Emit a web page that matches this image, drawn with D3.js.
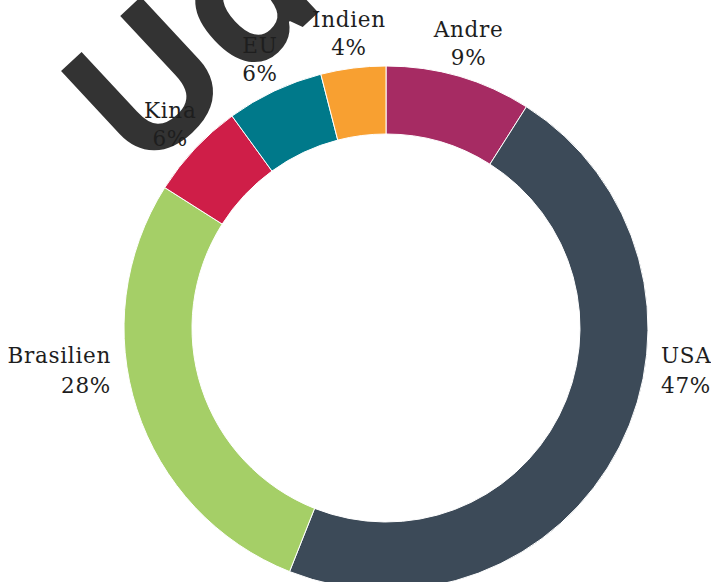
<!DOCTYPE html>
<html>
<head>
<meta charset="utf-8">
<script src="https://cdn.jsdelivr.net/npm/d3@7"></script>
<style>
  html, body { margin: 0; padding: 0; background: #fff; overflow: hidden; }
  svg { display: block; }
</style>
</head>
<body>
<script>
// ---- data ----
const categories = ["Andre", "USA", "Brasilien", "Kina", "EU", "Indien"];
const shares = [9, 47, 28, 6, 6, 4];
const colors = ["#a62b63", "#3c4a58", "#a5cf67", "#cf1e48", "#00798a", "#f8a031"];
const bigTitle = "Ude";

const W = 711, H = 582;
const cx = 386, cy = 328;
const outerR = 262, innerR = 194;

const svg = d3.select("body").append("svg")
  .attr("width", W).attr("height", H);

// Big rotated title text (behind everything)
svg.append("text")
  .attr("transform", "translate(140,179) rotate(-43)")
  .attr("font-family", "'Open Sans', 'Liberation Sans', sans-serif")
  .attr("font-weight", 700)
  .attr("font-size", 186)
  .attr("fill", "#333333")
  .text(bigTitle);

const data = categories.map((c, i) => ({ name: c, value: shares[i], color: colors[i] }));

const pie = d3.pie().value(d => d.value).sort(null);
const arcs = pie(data);
const arc = d3.arc().innerRadius(innerR).outerRadius(outerR);

const g = svg.append("g").attr("transform", `translate(${cx},${cy})`);

g.selectAll("path.slice")
  .data(arcs)
  .join("path")
  .attr("class", "slice")
  .attr("d", arc)
  .attr("fill", d => d.data.color)
  .attr("stroke", "#ffffff")
  .attr("stroke-width", 1);

// Labels
const total = d3.sum(shares);
const labelR = outerR + 34;
const lines = 28;
const lab = svg.append("g")
  .attr("font-family", "'DejaVu Serif', serif")
  .attr("font-size", 21.5)
  .attr("letter-spacing", 0.7)
  .attr("fill", "#1e1e1e");

arcs.forEach(a => {
  const mid = (a.startAngle + a.endAngle) / 2;
  const s = Math.sin(mid), c = Math.cos(mid);
  const pct = Math.round(a.data.value / total * 100) + "%";
  let x, y1, anchor;
  if (a.data.value / total >= 0.2) {
    anchor = s > 0 ? "start" : "end";
    x = cx + (s > 0 ? 1 : -1) * (outerR + 13);
    y1 = cy + 35;
  } else {
    anchor = "middle";
    x = cx + labelR * s;
    y1 = cy - labelR * c - 7;
  }
  const t = lab.append("text").attr("text-anchor", anchor);
  t.append("tspan").attr("x", x).attr("y", y1).text(a.data.name);
  t.append("tspan").attr("x", x).attr("y", y1 + lines + (anchor === "middle" ? 0 : 2)).text(pct);
});
</script>
</body>
</html>
